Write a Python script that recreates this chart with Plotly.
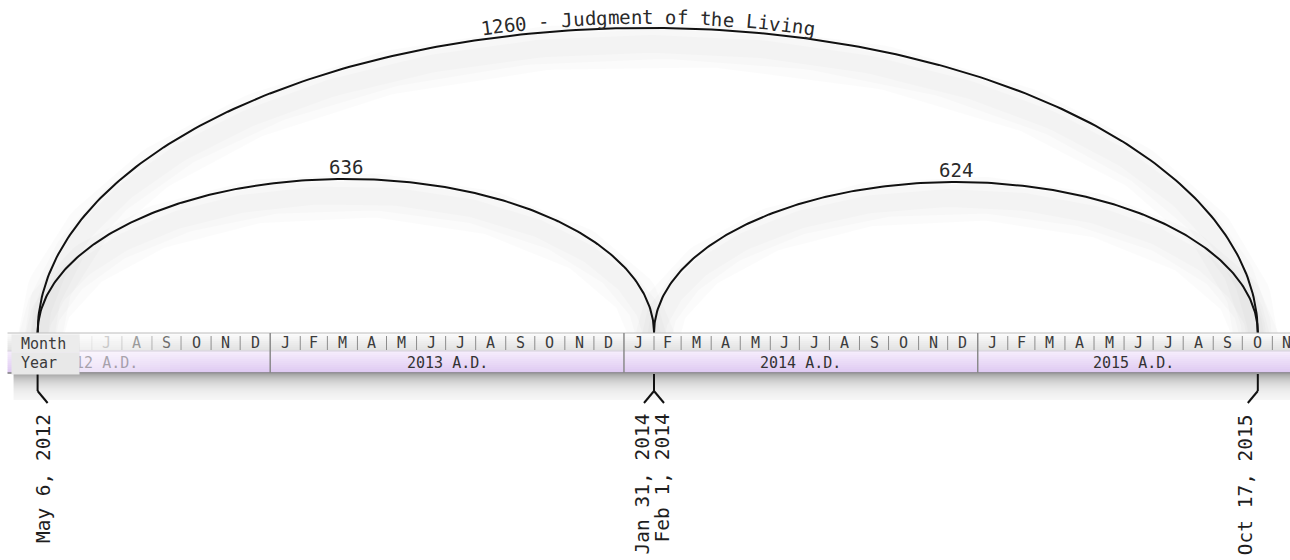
import numpy as np
import pandas as pd
import plotly.graph_objects as go

# ---------------- data ----------------
AXIS_START = "2012-03-28 05:00"
AXIS_END = "2015-11-19 05:00"
BAND_START = "2012-04-05"
YEAR_VIEW_START = "2012-01-10"
MONTH_LETTERS = ["J", "F", "M", "A", "M", "J", "J", "A", "S", "O", "N", "D"]
YEARS = [2012, 2013, 2014, 2015]
YEAR_LABELS = ["2012 A.D.", "2013 A.D.", "2014 A.D.", "2015 A.D."]
ROW_LABELS = ["Month", "Year"]
ARC_STARTS = ["2012-05-06", "2014-02-01", "2012-05-06"]
ARC_ENDS = ["2014-02-01", "2015-10-17", "2015-10-17"]
ARC_LABELS = ["636", "624", "1260 - Judgment of the Living"]
MARKER_DATES = ["2012-05-06", "2014-02-01", "2015-10-17"]
MARKER_LABELS = [["May 6, 2012"], ["Jan 31, 2014", "Feb 1, 2014"], ["Oct 17, 2015"]]

# ---------------- style / layout ----------------
W, H = 1290, 560
FONT = "DejaVu Sans Mono"
BAND_TOP, ROW_SPLIT, BAND_BOTTOM = 333, 351, 373
LABEL_BOX_PX = (11, 78)
t0 = pd.Timestamp(AXIS_START)
t1 = pd.Timestamp(AXIS_END)
DAY = pd.Timedelta(days=1)
PX_PER_DAY = W / ((t1 - t0) / DAY)


def D(ts):
    return pd.Timestamp(ts).strftime("%Y-%m-%d %H:%M:%S.%f")


def shift(ts, px):
    return pd.Timestamp(ts) + pd.Timedelta(days=px / PX_PER_DAY)


def to_px(ts):
    return (pd.Timestamp(ts) - t0) / DAY * PX_PER_DAY


def fade(xpx):
    return float(np.clip((xpx - 80) / 120, 0.15, 1.0))


def lerp_color(c1, c2, f):
    a = [int(c1[i:i + 2], 16) for i in (1, 3, 5)]
    b = [int(c2[i:i + 2], 16) for i in (1, 3, 5)]
    return "rgb(%d,%d,%d)" % tuple(round(a[k] + (b[k] - a[k]) * f) for k in range(3))


fig = go.Figure()
shapes = []
ann = []

# ---------------- arcs ----------------
theta = np.linspace(0, np.pi, 241)
arc_geo = []
for s, e in zip(ARC_STARTS, ARC_ENDS):
    s, e = pd.Timestamp(s), pd.Timestamp(e)
    half_days = (e - s) / DAY / 2
    mid = s + pd.Timedelta(days=half_days)
    span_px = (e - s) / DAY * PX_PER_DAY
    height = span_px / 4
    xs = mid + pd.to_timedelta(-np.cos(theta) * half_days, unit="D")
    ys = BAND_TOP - height * np.sin(theta)
    arc_geo.append((mid, span_px, height, xs, ys))

# soft shadows
for mid, span_px, height, xs, ys in arc_geo:
    for w in (44, 30, 18):
        fig.add_trace(go.Scatter(x=xs, y=ys + 16, mode="lines",
                                 line=dict(color="rgba(0,0,0,0.017)", width=w),
                                 hoverinfo="skip", showlegend=False))
for mid, span_px, height, xs, ys in arc_geo:
    fig.add_trace(go.Scatter(x=xs, y=ys, mode="lines",
                             line=dict(color="#111111", width=2),
                             hoverinfo="skip", showlegend=False))

# arc labels
for (mid, span_px, height, xs, ys), lab in zip(arc_geo, ARC_LABELS):
    if len(lab) <= 6:
        ann.append(dict(x=D(mid), y=BAND_TOP - height + 1, text=lab, showarrow=False,
                        xanchor="center", yanchor="bottom",
                        font=dict(family=FONT, size=19, color="#2a2a2a")))
    else:
        fs = 19
        cw = 0.602 * fs
        a, b = span_px / 2, height
        n = len(lab)
        for i, ch in enumerate(lab):
            if ch == " ":
                continue
            dx = (i - (n - 1) / 2) * cw
            t = np.arccos(np.clip(dx / a, -1, 1))
            slope = b * np.cos(t) / (a * np.sin(t))
            ang = np.degrees(np.arctan(slope))
            nrm = np.hypot(1, slope)
            d = 11
            ann.append(dict(x=D(shift(mid, dx + d * slope / nrm)),
                            y=BAND_TOP - b * np.sin(t) - d / nrm,
                            text=ch, showarrow=False, textangle=ang,
                            xanchor="center", yanchor="middle",
                            font=dict(family=FONT, size=fs, color="#2a2a2a")))

# ---------------- band ----------------
band_x0 = pd.Timestamp(BAND_START)
band_x1 = t1
n1 = 9
for k in range(n1):
    ya = BAND_TOP + (ROW_SPLIT - BAND_TOP) * k / n1
    yb = BAND_TOP + (ROW_SPLIT - BAND_TOP) * (k + 1) / n1
    shapes.append(dict(type="rect", xref="x", yref="y", x0=D(band_x0), x1=D(band_x1),
                       y0=ya, y1=yb + 0.3, line=dict(width=0),
                       fillcolor=lerp_color("#fbfbfb", "#e2e2e2", k / (n1 - 1))))
n2 = 11
for k in range(n2):
    ya = ROW_SPLIT + (BAND_BOTTOM - ROW_SPLIT) * k / n2
    yb = ROW_SPLIT + (BAND_BOTTOM - ROW_SPLIT) * (k + 1) / n2
    shapes.append(dict(type="rect", xref="x", yref="y", x0=D(band_x0), x1=D(band_x1),
                       y0=ya, y1=yb + 0.3, line=dict(width=0),
                       fillcolor=lerp_color("#f5ecfc", "#dfcaf2", k / (n2 - 1))))
for k in range(26):
    op = 0.34 * np.exp(-k / 11.0)
    shapes.append(dict(type="rect", xref="x", yref="y", x0=D(shift(band_x0, 6)), x1=D(band_x1),
                       y0=BAND_BOTTOM + 1 + k, y1=BAND_BOTTOM + 2 + k, line=dict(width=0),
                       fillcolor="rgba(0,0,0,%.4f)" % op))
for k in range(12):
    xa = 80 + k * 10
    op = 0.55 * (1 - fade(xa + 5))
    shapes.append(dict(type="rect", xref="x", yref="y", x0=D(shift(t0, xa)), x1=D(shift(t0, xa + 10)),
                       y0=BAND_TOP, y1=BAND_BOTTOM, line=dict(width=0),
                       fillcolor="rgba(255,255,255,%.3f)" % op))
shapes.append(dict(type="line", xref="x", yref="y", x0=D(band_x0), x1=D(band_x1),
                   y0=BAND_TOP, y1=BAND_TOP, line=dict(color="#bcbcbc", width=1)))
shapes.append(dict(type="line", xref="x", yref="y", x0=D(band_x0), x1=D(band_x1),
                   y0=ROW_SPLIT, y1=ROW_SPLIT, line=dict(color="#d6d0dc", width=1)))
shapes.append(dict(type="line", xref="x", yref="y", x0=D(band_x0), x1=D(band_x1),
                   y0=BAND_BOTTOM, y1=BAND_BOTTOM, line=dict(color="#7c7c7c", width=1.5)))

months = pd.date_range(band_x0.to_period("M").to_timestamp(), t1, freq="MS")
for m in months:
    nxt = m + pd.offsets.MonthBegin(1)
    if m > band_x0:
        xm = to_px(m)
        if m.month == 1:
            shapes.append(dict(type="line", xref="x", yref="y", x0=D(m), x1=D(m),
                               y0=BAND_TOP, y1=BAND_BOTTOM,
                               line=dict(color="#8a8a8a", width=1.5)))
        else:
            shapes.append(dict(type="line", xref="x", yref="y", x0=D(m), x1=D(m),
                               y0=BAND_TOP + 3, y1=ROW_SPLIT - 1, opacity=fade(xm),
                               line=dict(color="#8c8c8c", width=1)))
    cmid = m + (nxt - m) / 2
    if to_px(cmid) > LABEL_BOX_PX[1] + 6 and cmid < t1:
        ann.append(dict(x=D(cmid), y=(BAND_TOP + ROW_SPLIT) / 2 + 0.5, text=MONTH_LETTERS[m.month - 1],
                        showarrow=False, xanchor="center", yanchor="middle",
                        opacity=fade(to_px(cmid)),
                        font=dict(family=FONT, size=15, color="#3c3c3c")))

view0 = pd.Timestamp(YEAR_VIEW_START)
for yr, lab in zip(YEARS, YEAR_LABELS):
    ys_ = max(pd.Timestamp(f"{yr}-01-01"), view0)
    ye_ = min(pd.Timestamp(f"{yr + 1}-01-01"), t1)
    c = ys_ + (ye_ - ys_) / 2
    ann.append(dict(x=D(c), y=(ROW_SPLIT + BAND_BOTTOM) / 2 + 0.5, text=lab, showarrow=False,
                    xanchor="center", yanchor="middle", opacity=max(fade(to_px(c) + 30), 0.3),
                    font=dict(family=FONT, size=15, color="#333333")))

# row label panel (drawn over the start of the band)
box_rows = [(BAND_TOP + 0.5, ROW_SPLIT - 0.5, "#ececec"), (ROW_SPLIT + 0.5, BAND_BOTTOM - 1, "#e8e8e8")]
for (ya, yb, col), lab in zip(box_rows, ROW_LABELS):
    ann.append(dict(x=D(shift(t0, LABEL_BOX_PX[0])), y=ya, text="&nbsp;" + lab, showarrow=False,
                    xanchor="left", yanchor="top", align="left", valign="middle",
                    width=LABEL_BOX_PX[1] - LABEL_BOX_PX[0], height=yb - ya,
                    bgcolor=col, borderpad=0,
                    font=dict(family=FONT, size=15, color="#3a3a3a")))

# ---------------- date markers ----------------
STEM0, STEM1, BR_DX, BR_DY = BAND_BOTTOM + 1, 391, 10, 12
for dt, labs in zip(MARKER_DATES, MARKER_LABELS):
    is_start = dt in ARC_STARTS
    is_end = dt in ARC_ENDS
    dirs = ([-1] if is_end else []) + ([1] if is_start else [])
    shapes.append(dict(type="line", xref="x", yref="y", x0=D(dt), x1=D(dt),
                       y0=STEM0, y1=STEM1, line=dict(color="#111111", width=2)))
    for dr in dirs:
        shapes.append(dict(type="line", xref="x", yref="y", x0=D(dt), x1=D(shift(dt, dr * BR_DX)),
                           y0=STEM1, y1=STEM1 + BR_DY, line=dict(color="#111111", width=2)))
    if len(labs) == 1:
        offs = [dirs[0] * (12 if dirs[0] < 0 else 6)]
    else:
        offs = [-12, 8]
    for lab, off in zip(labs, offs):
        ann.append(dict(x=D(shift(dt, off)), y=412, text=lab, showarrow=False, textangle=-90,
                        xanchor="center", yanchor="top",
                        font=dict(family=FONT, size=19.5, color="#1e1e1e")))

fig.update_layout(
    width=W, height=H, margin=dict(l=0, r=0, t=0, b=0),
    paper_bgcolor="white", plot_bgcolor="white",
    xaxis=dict(type="date", range=[D(t0), D(t1)], visible=False, fixedrange=True),
    yaxis=dict(range=[H, 0], visible=False, fixedrange=True),
    shapes=shapes, annotations=ann, showlegend=False,
)
fig.write_html("out.html", config={"displayModeBar": False},
               post_script="document.body.style.margin='0';document.body.style.overflow='hidden';")
